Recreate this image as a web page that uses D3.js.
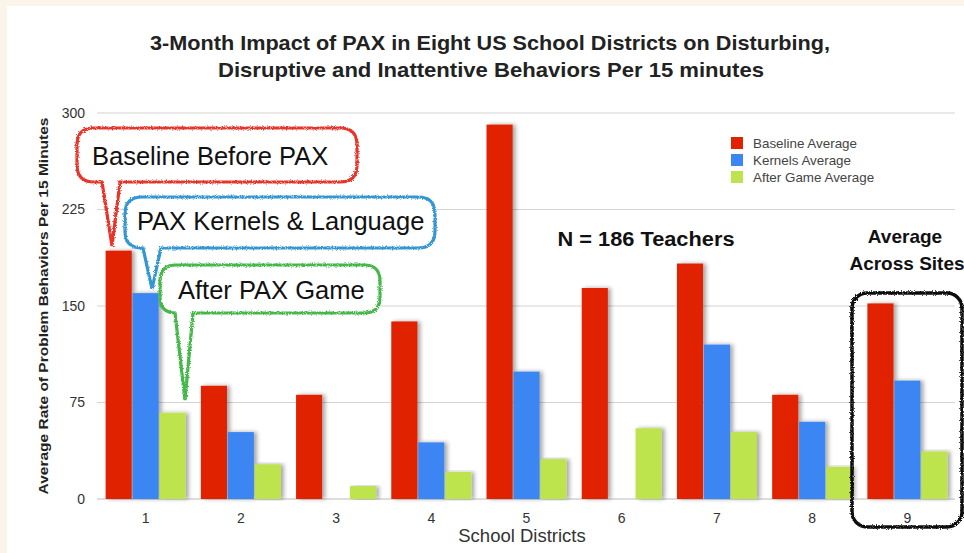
<!DOCTYPE html>
<html><head><meta charset="utf-8">
<script src="https://cdn.jsdelivr.net/npm/d3@7"></script>
<style>
html,body{margin:0;padding:0;background:#fbf4e8;}
svg{display:block;}
text{font-family:"Liberation Sans",Arial,Helvetica,sans-serif;}
</style></head>
<body>
<svg id="chart" width="964" height="553"></svg>
<script>
const districts = ["1","2","3","4","5","6","7","8","9"];
const seriesNames = ["Baseline Average","Kernels Average","After Game Average"];
const baseline = [193, 88, 81, 138, 291, 164, 183, 81, 152];
const kernels  = [160, 52, 0, 44, 99, 0, 120, 60, 92];
const afterGame = [67, 27, 10, 21, 31, 55, 52, 25, 37];
const yTicks = [0, 75, 150, 225, 300];
const colors = ["#e02200", "#3b86f2", "#bde34e"];
const titleLines = ["3-Month Impact of PAX in Eight US School Districts on Disturbing,",
                    "Disruptive and Inattentive Behaviors Per 15 minutes"];

const svg = d3.select("#chart");
const defs = svg.append("defs");
const rough = defs.append("filter").attr("id","rough").attr("x","-5%").attr("y","-5%").attr("width","110%").attr("height","110%");
rough.append("feTurbulence").attr("type","fractalNoise").attr("baseFrequency","0.8").attr("numOctaves",2).attr("result","n");
rough.append("feDisplacementMap").attr("in","SourceGraphic").attr("in2","n").attr("scale",3.5);
const shadow = defs.append("filter").attr("id","shadow").attr("x","-20%").attr("y","-5%").attr("width","160%").attr("height","110%");
shadow.append("feDropShadow").attr("dx",3).attr("dy",0).attr("stdDeviation",2).attr("flood-color","#000").attr("flood-opacity",0.35);

svg.append("rect").attr("x",7).attr("y",6).attr("width",957).attr("height",547).attr("fill","#fff");

// title
svg.append("text").attr("x",490).attr("y",50).attr("text-anchor","middle")
  .attr("font-size",20.5).attr("font-weight","bold").attr("fill","#222")
  .attr("textLength",680).attr("lengthAdjust","spacingAndGlyphs").text(titleLines[0]);
svg.append("text").attr("x",491).attr("y",77).attr("text-anchor","middle")
  .attr("font-size",20.5).attr("font-weight","bold").attr("fill","#222")
  .attr("textLength",546).attr("lengthAdjust","spacingAndGlyphs").text(titleLines[1]);

const x0 = d3.scaleBand().domain(districts).range([98, 955]).paddingInner(0.16).paddingOuter(0.08);
const x1 = d3.scaleBand().domain(seriesNames).range([0, x0.bandwidth()]).paddingInner(0.03);
const y = d3.scaleLinear().domain([0, 300]).range([499, 113]);

// gridlines
svg.append("g").selectAll("line").data(yTicks).join("line")
  .attr("x1",97).attr("x2",955).attr("y1",d=>y(d)).attr("y2",d=>y(d))
  .attr("stroke",d=>d===0?"#bbb":"#d4d4d4").attr("stroke-width",1.2);

// y axis
const yAxis = d3.axisLeft(y).tickValues(yTicks).tickSize(0).tickPadding(0);
const yg = svg.append("g").attr("transform","translate(85,0)").call(yAxis);
yg.select(".domain").remove();
yg.selectAll("text").attr("font-size",14).attr("fill","#333").attr("font-family","Liberation Sans, Arial, sans-serif");

// x axis
const xAxis = d3.axisBottom(x0).tickSize(0).tickPadding(0);
const xg = svg.append("g").attr("transform","translate(0,513)").call(xAxis);
xg.select(".domain").remove();
xg.selectAll("text").attr("font-size",14).attr("fill","#333").attr("font-family","Liberation Sans, Arial, sans-serif");

// y title
svg.append("text").attr("transform","translate(48,306) rotate(-90)").attr("text-anchor","middle")
  .attr("font-size",12.5).attr("font-weight","bold").attr("fill","#222")
  .attr("textLength",377).attr("lengthAdjust","spacingAndGlyphs")
  .text("Average Rate of Problem Behaviors Per 15 Minutes");
// x title
svg.append("text").attr("x",522).attr("y",542).attr("text-anchor","middle")
  .attr("font-size",18.5).attr("fill","#333").text("School Districts");

// bars
const series = [baseline, kernels, afterGame];
const rows = districts.map((d,i)=>({d, vals: seriesNames.map((s,j)=>({s, j, v: series[j][i]}))}));
const groups = svg.append("g").selectAll("g").data(rows).join("g")
  .attr("transform",r=>`translate(${x0(r.d)},0)`);
groups.selectAll("rect").data(r=>r.vals.filter(o=>o.v>0)).join("rect")
  .attr("x",o=>x1(o.s)).attr("width",x1.bandwidth())
  .attr("y",o=>y(o.v)).attr("height",o=>y(0)-y(o.v))
  .attr("fill",o=>colors[o.j]).attr("filter","url(#shadow)");

// legend
const lg = svg.append("g").attr("transform","translate(731,137)");
seriesNames.forEach((s,i)=>{
  lg.append("rect").attr("x",0).attr("y",i*17).attr("width",12).attr("height",12).attr("fill",colors[i]);
  lg.append("text").attr("x",22).attr("y",i*17+11).attr("font-size",13.4).attr("fill","#444").text(s);
});

// annotations
svg.append("text").attr("x",646).attr("y",246).attr("text-anchor","middle")
  .attr("font-size",20).attr("font-weight","bold").attr("fill","#111")
  .attr("textLength",177).attr("lengthAdjust","spacingAndGlyphs").text("N = 186 Teachers");
svg.append("text").attr("x",905).attr("y",243).attr("text-anchor","middle")
  .attr("font-size",19).attr("font-weight","bold").attr("fill","#111").text("Average");
svg.append("text").attr("x",907).attr("y",270).attr("text-anchor","middle")
  .attr("font-size",19).attr("font-weight","bold").attr("fill","#111").text("Across Sites");

// callouts
function bubble(x0_, y0_, x1_, y1_, r, pa, pb, tip){
  return `M${x0_+r},${y0_} H${x1_-r} Q${x1_},${y0_} ${x1_},${y0_+r} V${y1_-r} Q${x1_},${y1_} ${x1_-r},${y1_}`+
    ` H${pb} L${tip[0]},${tip[1]} L${pa},${y1_} H${x0_+r} Q${x0_},${y1_} ${x0_},${y1_-r} V${y0_+r} Q${x0_},${y0_} ${x0_+r},${y0_} Z`;
}
const callouts = [
  {b:[77,128,357,182,17,102,120,[112,246]], c:"#e8352a", t:"Baseline Before PAX", tx:92, ty:165},
  {b:[125,197,435,248,17,143,161,[152,289]], c:"#3596d4", t:"PAX Kernels & Language", tx:137, ty:230},
  {b:[160,265,380,313,16,175,193,[185,400]], c:"#45b84a", t:"After PAX Game", tx:178, ty:299}
];
callouts.forEach(o=>{
  svg.append("path").attr("d",bubble(...o.b)).attr("fill","#fff").attr("stroke",o.c)
    .attr("stroke-width",3.2).attr("filter","url(#rough)");
  svg.append("text").attr("x",o.tx).attr("y",o.ty).attr("font-size",25.5).attr("fill","#111").text(o.t);
});

// box around average
svg.append("rect").attr("x",852).attr("y",293).attr("width",110).attr("height",234).attr("rx",15)
  .attr("fill","none").attr("stroke","#111").attr("stroke-width",3.5).attr("filter","url(#rough)");
</script>
</body></html>
